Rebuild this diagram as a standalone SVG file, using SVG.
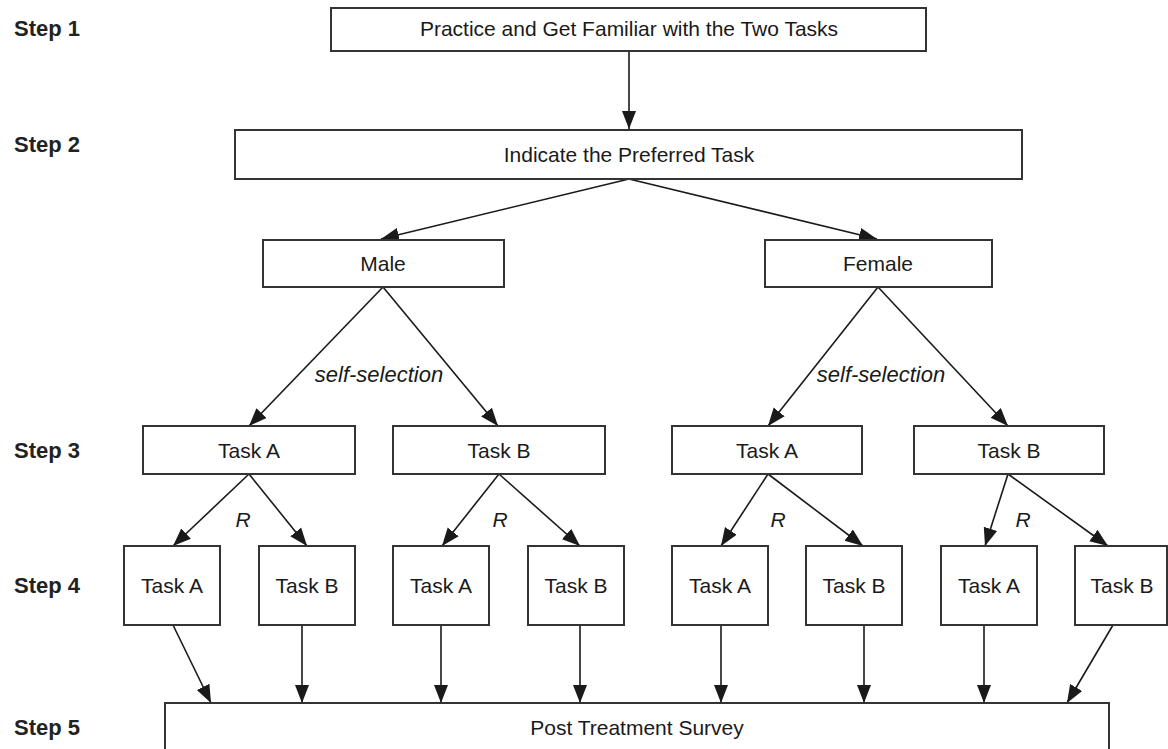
<svg xmlns="http://www.w3.org/2000/svg" width="1168" height="749" viewBox="0 0 1168 749">
<style>
  .box { fill: #ffffff; stroke: #333333; stroke-width: 2; }
  .lbl { font-family: "Liberation Sans", Arial, sans-serif; font-size: 21px; fill: #1a1a1a; text-anchor: middle; }
  .step { font-family: "Liberation Sans", Arial, sans-serif; font-size: 22px; font-weight: bold; fill: #222222; }
  .it { font-family: "Liberation Sans", Arial, sans-serif; font-size: 22px; font-style: italic; fill: #1a1a1a; text-anchor: middle; }
  .r { font-family: "Liberation Sans", Arial, sans-serif; font-size: 21px; font-style: italic; fill: #1a1a1a; text-anchor: middle; }
  .edge { stroke: #1a1a1a; stroke-width: 1.6; fill: none; marker-end: url(#arrow); }
</style>
<defs>
  <marker id="arrow" markerUnits="userSpaceOnUse" markerWidth="18" markerHeight="16" refX="18" refY="8" orient="auto">
    <path d="M0,1 L18,8 L0,15 z" fill="#1a1a1a"/>
  </marker>
</defs>
<rect width="1168" height="749" fill="#ffffff"/>

<g id="step-labels">
  <text class="step" x="14" y="36">Step 1</text>
  <text class="step" x="14" y="152">Step 2</text>
  <text class="step" x="14" y="458">Step 3</text>
  <text class="step" x="14" y="593">Step 4</text>
  <text class="step" x="14" y="735">Step 5</text>
</g>

<g id="connectors">
  <line class="edge" x1="629" y1="51" x2="629" y2="129"/>
  <line class="edge" x1="629" y1="179" x2="381" y2="239"/>
  <line class="edge" x1="629" y1="179" x2="877" y2="239"/>
  <line class="edge" x1="383" y1="287" x2="249" y2="426"/>
  <line class="edge" x1="383" y1="287" x2="498" y2="426"/>
  <line class="edge" x1="878" y1="287" x2="768" y2="426"/>
  <line class="edge" x1="878" y1="287" x2="1008" y2="426"/>
  <line class="edge" x1="249" y1="474" x2="173" y2="546"/>
  <line class="edge" x1="249" y1="474" x2="307" y2="546"/>
  <line class="edge" x1="499" y1="474" x2="442" y2="546"/>
  <line class="edge" x1="499" y1="474" x2="580" y2="546"/>
  <line class="edge" x1="768" y1="474" x2="721" y2="546"/>
  <line class="edge" x1="768" y1="474" x2="863" y2="546"/>
  <line class="edge" x1="1008" y1="474" x2="985" y2="546"/>
  <line class="edge" x1="1008" y1="474" x2="1108" y2="546"/>
  <line class="edge" x1="173" y1="625" x2="211" y2="703"/>
  <line class="edge" x1="302" y1="625" x2="302" y2="703"/>
  <line class="edge" x1="441" y1="625" x2="441" y2="703"/>
  <line class="edge" x1="580" y1="625" x2="580" y2="703"/>
  <line class="edge" x1="721" y1="625" x2="721" y2="703"/>
  <line class="edge" x1="864" y1="625" x2="864" y2="703"/>
  <line class="edge" x1="984" y1="625" x2="984" y2="703"/>
  <line class="edge" x1="1113" y1="625" x2="1067" y2="703"/>
  <text class="it" x="379" y="382">self-selection</text>
  <text class="it" x="881" y="382">self-selection</text>
  <text class="r" x="243" y="527">R</text>
  <text class="r" x="500" y="527">R</text>
  <text class="r" x="778" y="527">R</text>
  <text class="r" x="1023" y="527">R</text>
</g>

<g id="practice">
  <rect class="box" x="331" y="8" width="595" height="43"/>
  <text class="lbl" x="629" y="36">Practice and Get Familiar with the Two Tasks</text>
</g>
<g id="indicate">
  <rect class="box" x="235" y="130" width="787" height="49"/>
  <text class="lbl" x="629" y="162">Indicate the Preferred Task</text>
</g>
<g id="male">
  <rect class="box" x="263" y="240" width="241" height="47"/>
  <text class="lbl" x="383" y="271">Male</text>
</g>
<g id="female">
  <rect class="box" x="765" y="240" width="227" height="47"/>
  <text class="lbl" x="878" y="271">Female</text>
</g>

<g id="m-task-a">
  <rect class="box" x="143" y="426" width="212" height="48"/>
  <text class="lbl" x="249" y="458">Task A</text>
</g>
<g id="m-task-b">
  <rect class="box" x="393" y="426" width="212" height="48"/>
  <text class="lbl" x="499" y="458">Task B</text>
</g>
<g id="f-task-a">
  <rect class="box" x="672" y="426" width="190" height="48"/>
  <text class="lbl" x="767" y="458">Task A</text>
</g>
<g id="f-task-b">
  <rect class="box" x="914" y="426" width="190" height="48"/>
  <text class="lbl" x="1009" y="458">Task B</text>
</g>

<g id="ma-a">
  <rect class="box" x="124" y="546" width="96" height="79"/>
  <text class="lbl" x="172" y="593">Task A</text>
</g>
<g id="ma-b">
  <rect class="box" x="259" y="546" width="96" height="79"/>
  <text class="lbl" x="307" y="593">Task B</text>
</g>
<g id="mb-a">
  <rect class="box" x="393" y="546" width="96" height="79"/>
  <text class="lbl" x="441" y="593">Task A</text>
</g>
<g id="mb-b">
  <rect class="box" x="528" y="546" width="96" height="79"/>
  <text class="lbl" x="576" y="593">Task B</text>
</g>
<g id="fa-a">
  <rect class="box" x="672" y="546" width="96" height="79"/>
  <text class="lbl" x="720" y="593">Task A</text>
</g>
<g id="fa-b">
  <rect class="box" x="806" y="546" width="96" height="79"/>
  <text class="lbl" x="854" y="593">Task B</text>
</g>
<g id="fb-a">
  <rect class="box" x="941" y="546" width="96" height="79"/>
  <text class="lbl" x="989" y="593">Task A</text>
</g>
<g id="fb-b">
  <rect class="box" x="1075" y="546" width="92" height="79"/>
  <text class="lbl" x="1122" y="593">Task B</text>
</g>

<g id="survey">
  <rect class="box" x="165" y="703" width="944" height="60"/>
  <text class="lbl" x="637" y="735">Post Treatment Survey</text>
</g>
</svg>
